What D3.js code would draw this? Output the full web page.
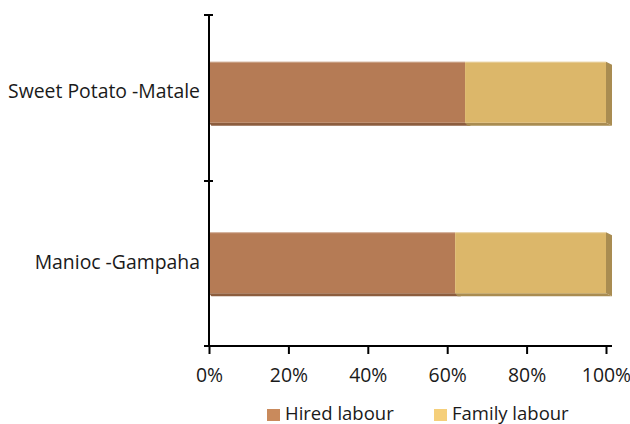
<!DOCTYPE html>
<html><head><meta charset="utf-8">
<script src="https://cdn.jsdelivr.net/npm/d3@7"></script>
<style>body{margin:0;background:#fff}svg{display:block}text{font-family:"Open Sans",sans-serif;fill:#1a1a1a}</style>
</head><body><svg id="c" width="630" height="424"></svg>
<script>
const categories = ["Sweet Potato -Matale", "Manioc -Gampaha"];
const seriesNames = ["Hired labour", "Family labour"];
const hired = [64.5, 62];
const family = [35.5, 38];
const xTicks = [0, 20, 40, 60, 80, 100];

const frontColors = ["#b57b55", "#dcb76a"];
const sideColors = ["#8c5d3e", "#a98c51"];
const legendColors = ["#c98a5c", "#f5cf7a"];
const FS = "19.4px";
const LFS = "18.5px";

const svg = d3.select("#c");
const x = d3.scaleLinear().domain([0, 100]).range([209, 606]);
const y = d3.scaleBand().domain(categories).range([15, 340]).paddingInner(0.642).paddingOuter(0.274);

const dx = 6, dy = 3;
categories.forEach((c, i) => {
  const vals = [hired[i], family[i]];
  let acc = 0;
  const y0 = y(c), h = y.bandwidth();
  vals.forEach((v, s) => {
    const xa = x(acc), xb = x(acc + v);
    svg.append("path").attr("d", `M${xa},${y0+h} L${xb},${y0+h} L${xb+dx},${y0+h+dy} L${xa+dx*0.4},${y0+h+dy} Z`).attr("fill", sideColors[s]);
    acc += v;
  });
  const xe = x(acc);
  svg.append("path").attr("d", `M${xe},${y0} L${xe+dx},${y0+dy} L${xe+dx},${y0+h+dy} L${xe},${y0+h} Z`).attr("fill", sideColors[1]);
  acc = 0;
  vals.forEach((v, s) => {
    svg.append("rect").attr("x", x(acc)).attr("y", y0).attr("width", x(acc+v)-x(acc)).attr("height", h).attr("fill", frontColors[s]);
    acc += v;
  });
  svg.append("line").attr("x1", x(0)).attr("x2", x(100)).attr("y1", y0+0.5).attr("y2", y0+0.5).attr("stroke", "#fff").attr("stroke-opacity", 0.35);
});

// x axis
const xAxis = d3.axisBottom(x).tickValues(xTicks).tickFormat(d => d + "%").tickSize(8).tickSizeOuter(0);
const gx = svg.append("g").attr("transform", "translate(0,346)").call(xAxis);
gx.select(".domain").attr("stroke", "#000").attr("stroke-width", 2).attr("d", "M204,0H612");
gx.selectAll(".tick line").attr("stroke", "#000").attr("stroke-width", 2).attr("y1", 0).attr("y2", 8);
gx.selectAll(".tick text").attr("y", 22).attr("dy", "0.71em").style("font-size", FS).attr("fill", "#1a1a1a");

// y axis
const yTicks = [15, 181, 346];
const gy = svg.append("g").attr("transform", "translate(209,0)");
gy.append("line").attr("x1", 0).attr("x2", 0).attr("y1", 15).attr("y2", 347).attr("stroke", "#000").attr("stroke-width", 2);
yTicks.forEach(t => gy.append("line").attr("x1", -5).attr("x2", 4).attr("y1", t).attr("y2", t).attr("stroke", "#000").attr("stroke-width", 2));
categories.forEach(c => {
  gy.append("text").attr("x", -9).attr("y", y(c) + y.bandwidth()/2 - 1).attr("dy", "0.35em").attr("text-anchor", "end").style("font-size", FS).text(c);
});

// legend
const legX = [267, 434];
seriesNames.forEach((n, i) => {
  svg.append("rect").attr("x", legX[i]).attr("y", 409).attr("width", 13).attr("height", 12).attr("fill", legendColors[i]);
  svg.append("text").attr("x", legX[i] + 18).attr("y", 419.5).style("font-size", LFS).text(n);
});
</script></body></html>
